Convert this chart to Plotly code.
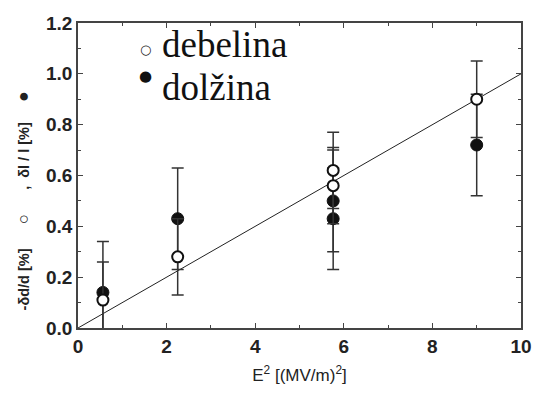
import plotly.graph_objects as go

# Data
x_vals = [0.5625, 2.25, 5.76, 5.76, 9.0]
dolzina_y = [0.14, 0.43, 0.50, 0.43, 0.72]      # filled circles
dolzina_err = [0.20, 0.20, 0.20, 0.20, 0.20]
debelina_y = [0.11, 0.28, 0.62, 0.56, 0.90]     # open circles
debelina_err = [0.15, 0.15, 0.15, 0.15, 0.15]
fit_x = [0, 10]
fit_y = [0.0, 1.0]

x_ticks = [0, 2, 4, 6, 8, 10]
y_ticks = [0.0, 0.2, 0.4, 0.6, 0.8, 1.0, 1.2]

fig = go.Figure()

fig.add_trace(go.Scatter(
    x=fit_x, y=fit_y, mode="lines",
    line=dict(color="#222222", width=1),
    showlegend=False, hoverinfo="skip"))

fig.add_trace(go.Scatter(
    x=x_vals, y=dolzina_y, mode="markers", name="dolžina",
    marker=dict(symbol="circle", size=12, color="#111111",
                line=dict(color="#111111", width=1)),
    error_y=dict(type="data", array=dolzina_err, visible=True,
                 color="#333333", thickness=1.5, width=6),
    showlegend=False))

fig.add_trace(go.Scatter(
    x=x_vals, y=debelina_y, mode="markers", name="debelina",
    marker=dict(symbol="circle", size=11, color="white",
                line=dict(color="#111111", width=2)),
    error_y=dict(type="data", array=debelina_err, visible=True,
                 color="#333333", thickness=1.5, width=6),
    showlegend=False))

axis_common = dict(
    showline=True, linecolor="#444444", linewidth=1.5, mirror="ticks",
    ticks="inside", ticklen=5, tickwidth=1.2, tickcolor="#444444",
    showgrid=False, zeroline=False,
    tickfont=dict(family="Liberation Sans, Arial", size=19, color="#222222",
                  weight="bold"),
)

fig.update_xaxes(
    range=[0, 10], tickvals=x_ticks, ticktext=[str(v) for v in x_ticks],
    minor=dict(dtick=1, ticks="inside", ticklen=3, tickcolor="#444444"),
    title=dict(text="E<sup>2</sup> [(MV/m)<sup>2</sup>]", standoff=14,
               font=dict(family="Liberation Sans, Arial", size=17, color="#222222")),
    **axis_common)

fig.update_yaxes(
    range=[0, 1.2], tickvals=y_ticks, ticktext=[f"{v:.1f}" for v in y_ticks],
    minor=dict(dtick=0.1, ticks="inside", ticklen=3, tickcolor="#444444"),
    **axis_common)

nb = "\u00a0"
ytitle = ("-δd/d [%]" + nb * 6 + "<span style='font-size:17px'>○</span>" + nb * 6 + ","
          + nb * 2 + "δl / l [%]" + nb * 5 + "<span style='font-size:18px'>●</span>")
fig.add_annotation(
    text=ytitle, textangle=-90, xref="paper", yref="paper",
    x=-0.125, y=0.417, xanchor="center", yanchor="middle", showarrow=False,
    font=dict(family="Liberation Sans, Arial", size=14.5, color="#222222", weight="bold"))

# Legend drawn as text
serif = "Liberation Serif, Times New Roman, serif"
fig.add_annotation(text="○", xref="paper", yref="paper", x=(147 - 78) / 454,
                   y=(331 - 50) / 308, xanchor="center", yanchor="middle",
                   showarrow=False, font=dict(size=13, color="#222222", family="DejaVu Sans"))
fig.add_annotation(text="●", xref="paper", yref="paper", x=(147 - 78) / 454,
                   y=(331 - 77) / 308, xanchor="center", yanchor="middle",
                   showarrow=False, font=dict(size=15, color="#111111", family="DejaVu Sans"))
fig.add_annotation(text="debelina", xref="paper", yref="paper", x=(162 - 78) / 454,
                   y=(331 - 45) / 308, xanchor="left", yanchor="middle",
                   showarrow=False, font=dict(size=37, color="#111111", family=serif))
fig.add_annotation(text="dolžina", xref="paper", yref="paper", x=(162 - 78) / 454,
                   y=(331 - 88) / 308, xanchor="left", yanchor="middle",
                   showarrow=False, font=dict(size=37, color="#111111", family=serif))

fig.update_layout(
    width=544, height=394,
    margin=dict(l=78, r=12, t=23, b=63),
    paper_bgcolor="white", plot_bgcolor="white",
    showlegend=False,
)

fig.write_html("out.html")
